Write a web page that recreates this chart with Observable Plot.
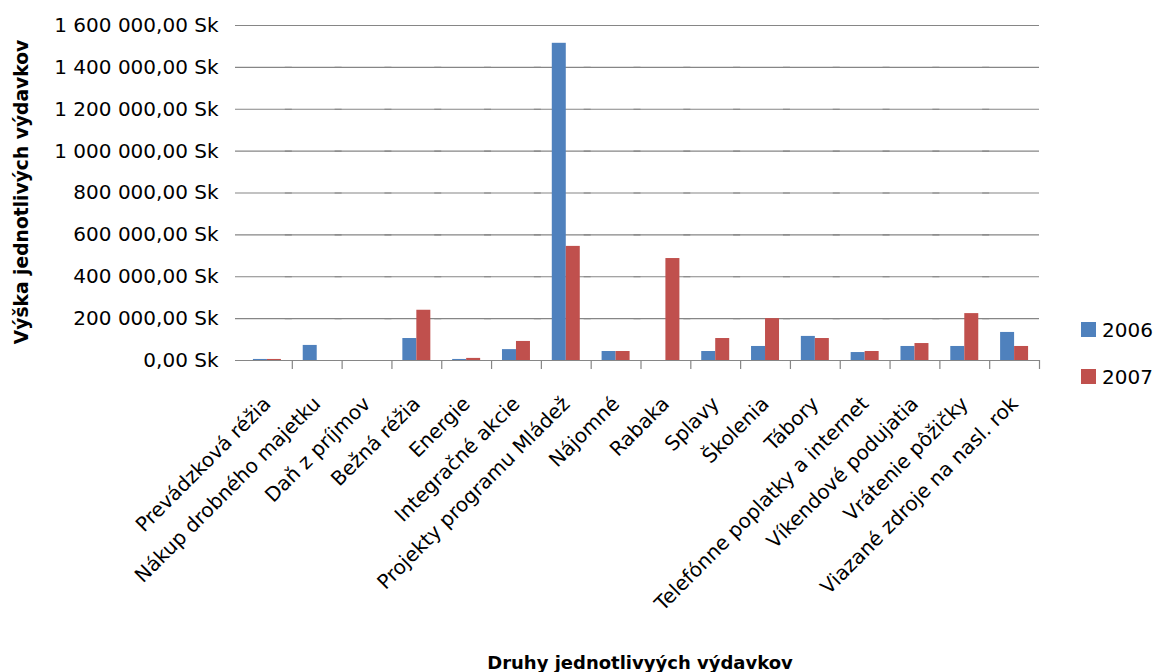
<!DOCTYPE html>
<html><head><meta charset="utf-8">
<script src="https://cdn.jsdelivr.net/npm/d3@7"></script>
<script src="https://cdn.jsdelivr.net/npm/@observablehq/plot@0.6"></script>
<style>
html,body{margin:0;padding:0;background:#fff;overflow:hidden;}
#wrap{position:relative;width:1158px;height:672px;overflow:hidden;background:#fff;}
#wrap svg{max-width:none !important;}
</style></head><body><div id="wrap"></div>
<script>
const categories = ["Prevádzková réžia","Nákup drobného majetku","Daň z príjmov","Bežná réžia","Energie","Integračné akcie","Projekty programu Mládež","Nájomné","Rabaka","Splavy","Školenia","Tábory","Telefónne poplatky a internet","Víkendové podujatia","Vrátenie pôžičky","Viazané zdroje na nasl. rok"];
const years = ["2006","2007"];
const values2006 = [5000, 72000, 0, 105000, 5000, 52000, 1515000, 43000, 0, 43000, 67000, 115000, 38000, 67000, 67000, 134000];
const values2007 = [5000, 0, 0, 240000, 10000, 91000, 545000, 43000, 487000, 105000, 200000, 105000, 43000, 81000, 224000, 67000];
const yTicks = [0, 200000, 400000, 600000, 800000, 1000000, 1200000, 1400000, 1600000];
const seriesColors = ["#4F81BD", "#C0504D"];
const xTitle = "Druhy jednotlivyých výdavkov";
const yTitle = "Výška jednotlivých výdavkov";

const data = categories.flatMap((c, i) => [
  {category: c, year: years[0], value: values2006[i]},
  {category: c, year: years[1], value: values2007[i]}
]);

const W = 1158, H = 672, ML = 242, MR = 119, MT = 25, MB = 312;
const po = 0.78;
const fxStep = (W - ML - MR) / categories.length;
const xStep = fxStep / (2 + 2 * po);
const boundaryOffset = xStep / 2 + po * xStep;

const locale = d3.formatLocale({decimal: ",", thousands: "\u00a0", grouping: [3], currency: ["", " Sk"]});
const fmt = v => locale.format(",.2f")(v) + " Sk";

const chart = Plot.plot({
  width: W, height: H,
  marginLeft: ML, marginRight: MR, marginTop: MT, marginBottom: MB,
  style: {fontFamily: "DejaVu Sans", fontSize: "20px", color: "black", background: "white", overflow: "visible", maxWidth: "none"},
  fx: {domain: categories, padding: 0, round: false, label: null},
  x: {domain: years, paddingInner: 0, paddingOuter: po, round: false, axis: null},
  y: {domain: [0, 1600000], label: null},
  color: {domain: years, range: seriesColors},
  marks: [
    Plot.gridY(yTicks, {stroke: "#868686", strokeOpacity: 1, strokeWidth: 1.2, insetLeft: -7}),
    Plot.barY(data, {fx: "category", x: "year", y: "value", fill: "year"}),
    Plot.ruleX(categories, {fx: d => d, x: () => years[1], dx: boundaryOffset, y1: 0, y2: 0, insetBottom: -9, stroke: "#868686", strokeWidth: 1.2}),
    Plot.axisY(yTicks, {tickSize: 0, tickPadding: 24, tickFormat: fmt, fontSize: 20, label: null}),
    Plot.axisFx({anchor: "bottom", tickSize: 0, tickRotate: -45, tickPadding: 18, dx: 0, dy: 22, fontSize: 20, label: null})
  ]
});
document.getElementById("wrap").appendChild(chart);

const svg = d3.select(chart);
svg.append("text").attr("x", 640).attr("y", 669).attr("text-anchor", "middle")
  .attr("font-family", "DejaVu Sans").attr("font-weight", "bold").attr("font-size", 18).text(xTitle);
svg.append("text").attr("transform", "translate(28,192) rotate(-90)").attr("text-anchor", "middle")
  .attr("font-family", "DejaVu Sans").attr("font-weight", "bold").attr("font-size", 18.7).text(yTitle);
const leg = svg.append("g").attr("font-family", "DejaVu Sans").attr("font-size", 20).attr("text-anchor", "start");
years.forEach((y, i) => {
  const g = leg.append("g").attr("transform", `translate(1081,${322 + i * 47})`);
  g.append("rect").attr("width", 15).attr("height", 15).attr("fill", chart.scale("color").apply(y));
  g.append("text").attr("x", 21).attr("y", 7.5).attr("dy", "0.36em").attr("text-anchor", "start").text(y);
});
</script></body></html>
